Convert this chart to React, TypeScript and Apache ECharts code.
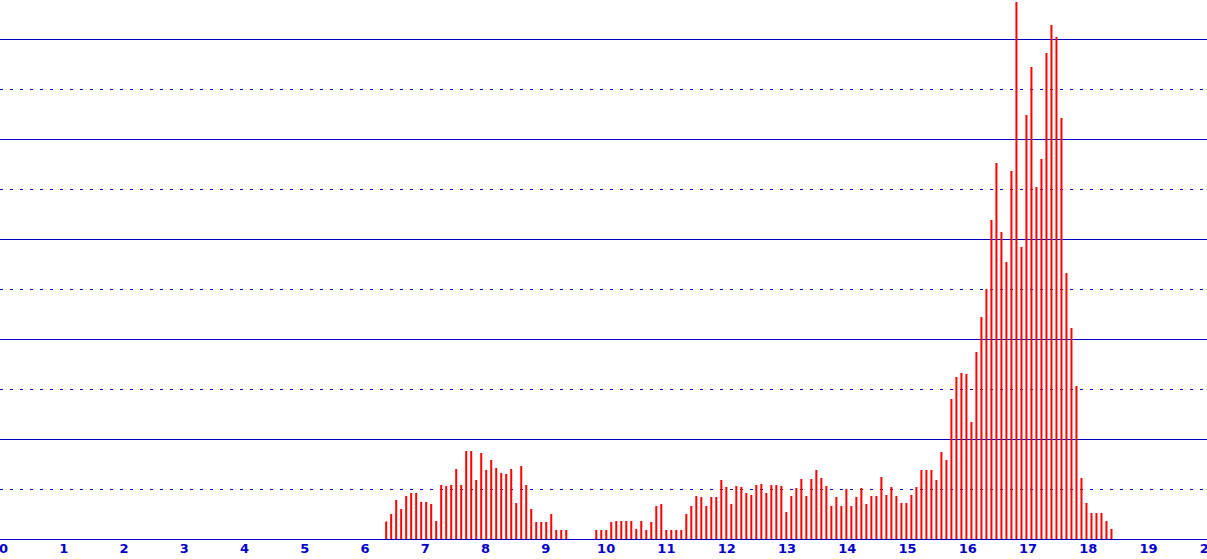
import React, { useEffect, useRef } from "react";
import * as echarts from "echarts";

// Bins: first bar centre and bin width on the x scale
const binStart = 6.35;
const binStep = 0.083;

// Bar heights (one value per bin)
const seg1 = [
  3.5, 5.0, 7.8, 6.0, 8.6, 9.2, 9.2, 7.4, 7.4, 7.0, 3.6, 10.8, 10.6, 10.8, 14.0,
  10.8, 17.6, 17.6, 11.8, 17.2, 13.8, 15.8, 14.2, 13.2, 13.0, 14.0, 7.2, 14.6,
  10.8, 6.0, 3.4, 3.4, 3.4, 5.0, 1.8, 1.8, 1.8,
];
const gap = [0, 0, 0, 0, 0];
const seg2 = [
  1.8, 1.8, 1.8, 3.4, 3.6, 3.6, 3.6, 3.6, 2.0, 3.6, 1.8, 3.4, 6.6, 7.0, 1.8, 1.8,
  1.8, 1.8, 5.0, 6.6, 8.6, 8.4, 6.6,
];
const seg3 = [
  8.4, 8.4, 11.8, 10.4, 7.0, 10.6, 10.4, 9.2, 8.8, 10.8, 11.0, 9.2, 10.8, 10.8,
  10.6, 5.4, 8.6, 10.2, 12.0, 8.6, 12.0, 13.8, 12.2, 10.6, 6.6, 8.4, 6.6, 10.0,
  6.6, 8.4, 10.2, 7.0, 8.6, 8.6, 12.4, 8.8, 10.4, 8.6, 7.2, 7.2,
];
const seg4 = [
  8.8, 10.4, 13.8, 13.8, 13.8, 11.8, 17.4, 15.8, 28.0, 32.4, 33.2, 33.0, 23.4,
  37.4, 44.4, 50.0, 63.8, 75.2, 61.4, 55.4, 73.6, 107.4, 58.4, 84.8, 94.4, 70.4,
  76.0, 97.2, 102.8, 100.4, 84.2, 53.2, 42.2, 30.6, 12.2, 7.2, 5.2, 5.2, 5.2, 3.6,
  2.0,
];

const xMin = 0;
const xMax = 20;
const xInterval = 1;
const yMin = 0;
const yMax = 100;
const yInterval = 20;

const BLUE = "#0000c8";
const RED = "#ff0000";

export default function App() {
  const ref = useRef<HTMLDivElement>(null);
  useEffect(() => {
    if (!ref.current) return;
    const chart = echarts.init(ref.current, null, { renderer: "svg" });
    const values = [...seg1, ...gap, ...seg2, ...seg3, ...seg4];
    const data = values.map((v, i) => [
      Number((binStart + i * binStep).toFixed(4)),
      v,
    ]);
    chart.setOption({
      animation: false,
      backgroundColor: "#ffffff",
      grid: [
        { left: 0, right: 0, top: 39, height: 500, outerBoundsMode: "none", containLabel: false },
        { left: 3.5, width: 1205.3, top: 39, height: 500, outerBoundsMode: "none", containLabel: false },
      ],
      xAxis: [
        {
          gridIndex: 0,
          type: "value",
          min: 0,
          max: 1,
          axisLine: { show: true, lineStyle: { color: BLUE, width: 1 } },
          axisTick: { show: false },
          axisLabel: { show: false },
          splitLine: { show: false },
        },
        {
          gridIndex: 1,
          type: "value",
          min: xMin,
          max: xMax,
          interval: xInterval,
          axisLine: { show: false },
          axisTick: { show: false },
          splitLine: { show: false },
          axisLabel: {
            color: BLUE,
            fontFamily: "DejaVu Sans",
            fontWeight: "bold",
            fontSize: 13,
            margin: 3,
            showMinLabel: true,
            showMaxLabel: true,
            hideOverlap: false,
          },
        },
      ],
      yAxis: [
        {
          gridIndex: 0,
          type: "value",
          min: yMin,
          max: yMax,
          interval: yInterval,
          axisLine: { show: false },
          axisTick: { show: false },
          axisLabel: { show: false },
          splitLine: { show: true, lineStyle: { color: BLUE, width: 1 } },
          minorTick: { show: false, splitNumber: 2 },
          minorSplitLine: {
            show: true,
            lineStyle: { color: BLUE, width: 1, type: [3, 7] },
          },
        },
        {
          gridIndex: 1,
          type: "value",
          min: yMin,
          max: yMax,
          show: false,
          splitLine: { show: false },
        },
      ],
      series: [
        {
          type: "bar",
          xAxisIndex: 1,
          yAxisIndex: 1,
          data,
          barWidth: 2,
          clip: false,
          itemStyle: { color: RED },
        },
      ],
    });
    return () => chart.dispose();
  }, []);
  return (
    <div
      ref={ref}
      style={{ position: "fixed", left: 0, top: 0, width: 1207, height: 559 }}
    />
  );
}
